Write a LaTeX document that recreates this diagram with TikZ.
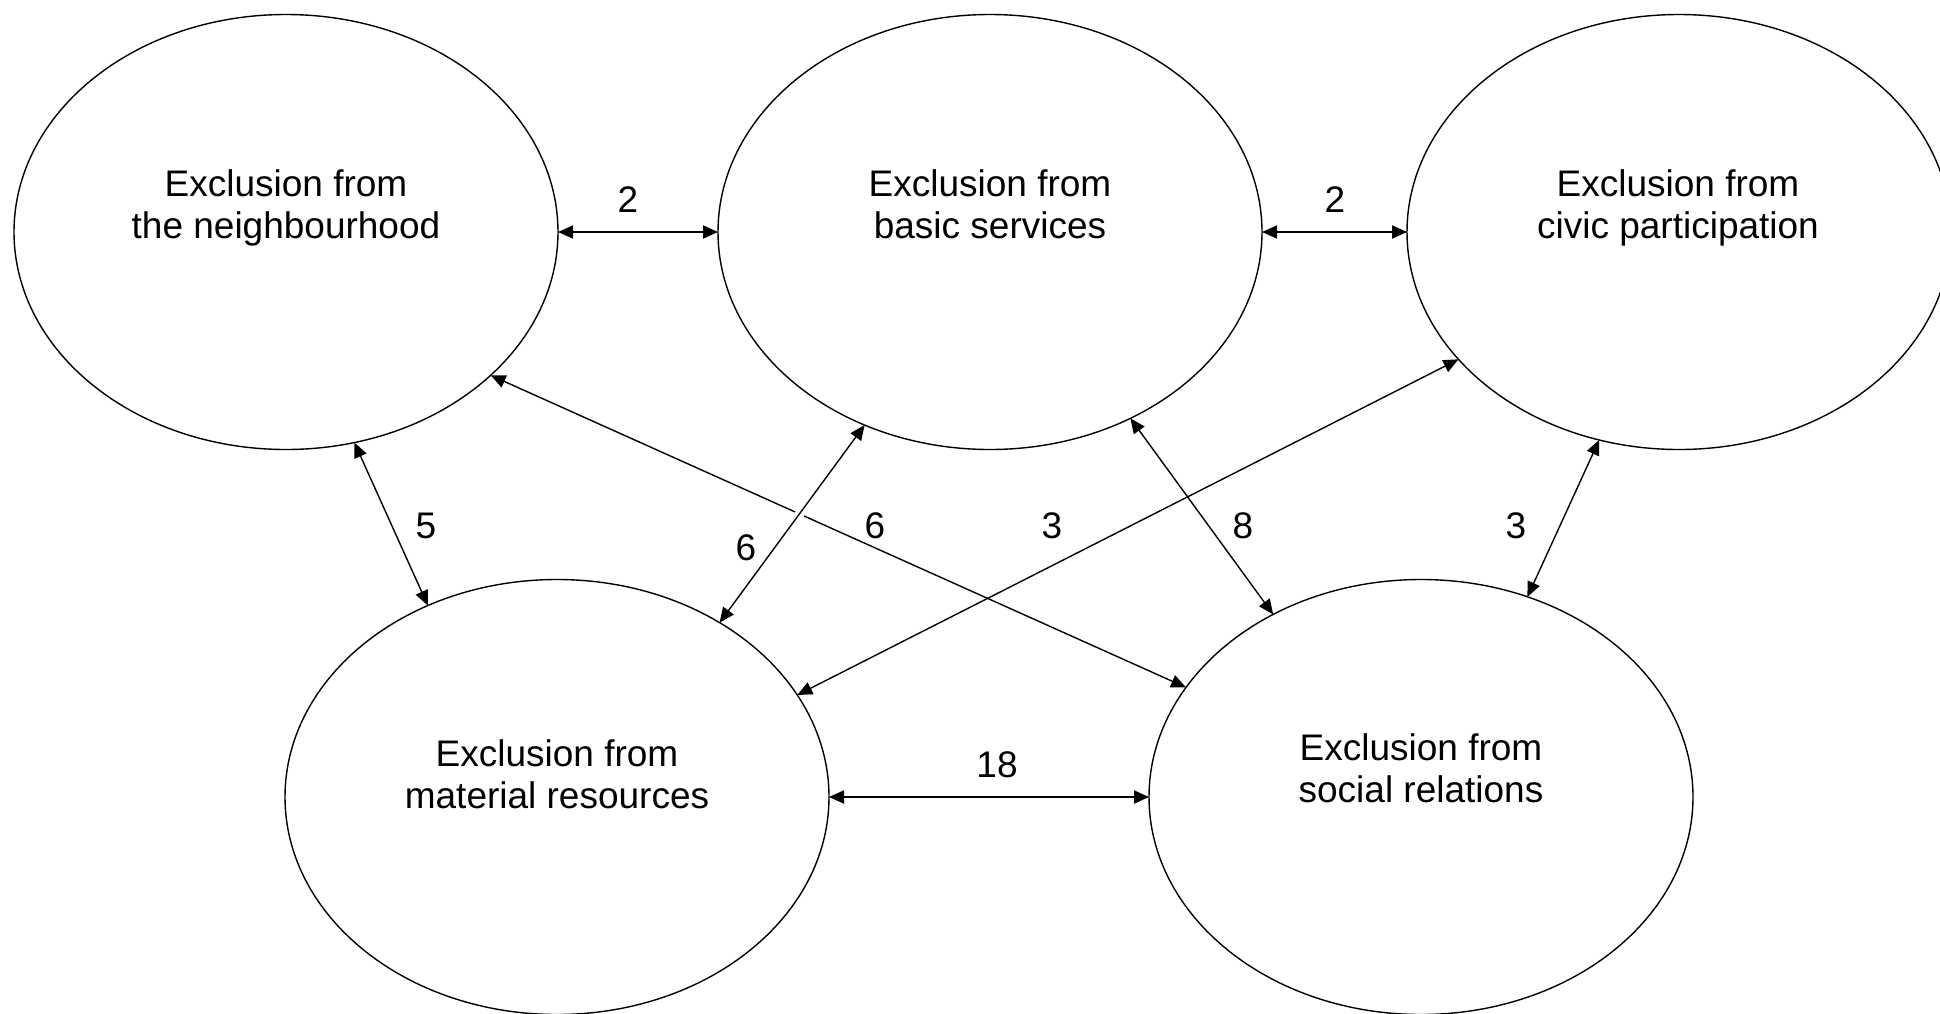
\documentclass[tikz,border=0pt]{standalone}
\usepackage{fontspec}
\setmainfont{Liberation Sans}
\usetikzlibrary{shapes.geometric,arrows.meta,calc}
\begin{document}
\begin{tikzpicture}[x=1pt,y=-1pt,
  ahead/.tip={Triangle[length=15pt,width=13pt]},
  bubble/.style={draw, ellipse, line width=1.4pt, minimum width=544pt, minimum height=435pt, inner sep=0pt, outer sep=0pt},
  txt/.style={anchor=base, inner sep=0pt, font=\fontsize{37}{42.5}\selectfont},
  num/.style={inner sep=0pt, font=\fontsize{37}{42.5}\selectfont},
  diag/.style={line width=1.4pt},
  link/.style={diag, ahead-ahead},
  hlink/.style={line width=2pt, ahead-ahead},
]
\path[use as bounding box, fill=white] (0,0) rectangle (1940,1013);

% ellipses
\node[bubble] (e1) at (286,232) {};
\node[bubble] (e2) at (990,232) {};
\node[bubble] (e3) at (1679,232) {};
\node[bubble] (e4) at (557,797) {};
\node[bubble] (e5) at (1421,797) {};

% texts
\node[txt] (t1a) at (286,196) {Exclusion from};
\node[txt] (t1b) at (286,238) {the neighbourhood};
\node[txt] (t2a) at (990,196) {Exclusion from};
\node[txt] (t2b) at (990,238) {basic services};
\node[txt] (t3a) at (1678,196) {Exclusion from};
\node[txt] (t3b) at (1678,238) {civic participation};
\node[txt] (t4a) at (557,766) {Exclusion from};
\node[txt] (t4b) at (557,808) {material resources};
\node[txt] (t5a) at (1421,760) {Exclusion from};
\node[txt] (t5b) at (1421,802) {social relations};

% horizontal connectors
\draw[hlink] (e1.east) -- (e2.west);
\draw[hlink] (e2.east) -- (e3.west);
\draw[hlink] (e4.east) -- (e5.west);

% diagonal connectors
\draw[link] (e1.-72.9) -- (e4.124.2);
\draw[link] (e2.-123.5) -- (e4.47.1);
\draw[link] (e4.23.8) -- (e3.-150);
\draw[link] (e2.-53.1) -- (e5.129.7);
\draw[link] (e3.-111.1) -- (e5.62.9);

% neighbourhood <-> social relations, broken where it crosses
\coordinate (p15a) at (e1.-35.4);
\coordinate (p15b) at (e5.155.5);
\coordinate (p24a) at (e2.-123.5);
\coordinate (p24b) at (e4.47.1);
\coordinate (cx) at (intersection of p15a--p15b and p24a--p24b);
\coordinate (g1) at ($(cx)!5pt!(p15a)$);
\coordinate (g2) at ($(cx)!5pt!(p15b)$);
\draw[diag, ahead-] (p15a) -- (g1);
\draw[diag, -ahead] (g2) -- (p15b);

% labels
\node[num] (l12) at (628,200) {2};
\node[num] (l23) at (1335,200) {2};
\node[num] (l45) at (997,765) {18};
\node[num] (l14) at (426,526) {5};
\node[num] (l24) at (746,548) {6};
\node[num] (l15) at (875,526) {6};
\node[num] (l43) at (1052,526) {3};
\node[num] (l25) at (1243,526) {8};
\node[num] (l35) at (1516,526) {3};
\end{tikzpicture}
\end{document}
